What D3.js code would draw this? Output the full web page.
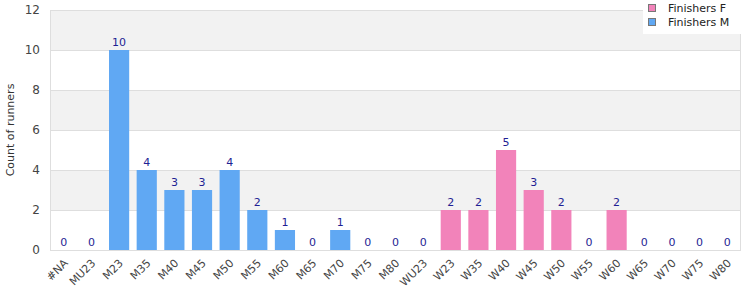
<!DOCTYPE html>
<html>
<head>
<meta charset="utf-8">
<script src="https://cdn.jsdelivr.net/npm/d3@7"></script>
<style>
  body { margin: 0; background: #fff; }
  svg { font-family: "DejaVu Sans", Verdana, sans-serif; }
  .axis path, .axis line { display: none; }
  .axis text { fill: #444; }
</style>
</head>
<body>
<div class="graph"></div>
<script>
// categories and series
const categories = ["#NA", "MU23", "M23", "M35", "M40", "M45", "M50", "M55", "M60", "M65", "M70", "M75", "M80",
    "WU23", "W23", "W35", "W40", "W45", "W50", "W55", "W60", "W65", "W70", "W75", "W80"];
const finishersM = [0, 0, 10, 4, 3, 3, 4, 2, 1, 0, 1, 0, 0, 0, 0, 0, 0, 0, 0, 0, 0, 0, 0, 0, 0];
const finishersF = [0, 0, 0, 0, 0, 0, 0, 0, 0, 0, 0, 0, 0, 0, 2, 2, 5, 3, 2, 0, 2, 0, 0, 0, 0];
const yTicks = [0, 2, 4, 6, 8, 10, 12];

const width = 750, height = 300;
const margin = {top: 10, right: 9, bottom: 50, left: 50};
const colorM = "#60a8f3", colorF = "#f283ba";

const svg = d3.select(".graph").append("svg")
    .attr("width", width)
    .attr("height", height);

const x = d3.scaleBand()
    .domain(categories)
    .range([margin.left, width - margin.right])
    .paddingInner(0.27)
    .paddingOuter(0.135);

const y = d3.scaleLinear()
    .domain([0, 12])
    .range([height - margin.bottom, margin.top]);

//alternating bands
const bands = d3.range(0, yTicks.length - 1).filter(i => i % 2 === 1);
svg.append("g").selectAll("rect")
    .data(bands)
    .join("rect")
    .attr("x", margin.left)
    .attr("width", width - margin.left - margin.right)
    .attr("y", i => y(yTicks[i + 1]))
    .attr("height", i => y(yTicks[i]) - y(yTicks[i + 1]))
    .attr("fill", "#f2f2f2");

//grid lines
svg.append("g").selectAll("line")
    .data(yTicks)
    .join("line")
    .attr("x1", margin.left)
    .attr("x2", width - margin.right)
    .attr("y1", d => y(d) + 0.5)
    .attr("y2", d => y(d) + 0.5)
    .attr("stroke", "#dedede");

//plot border
svg.append("rect")
    .attr("x", margin.left + 0.5)
    .attr("y", margin.top + 0.5)
    .attr("width", width - margin.left - margin.right - 1)
    .attr("height", height - margin.top - margin.bottom)
    .attr("fill", "none")
    .attr("stroke", "#dedede");

//axes
svg.append("g")
    .attr("class", "axis")
    .attr("transform", "translate(" + (margin.left - 2) + ",0)")
    .call(d3.axisLeft(y).tickValues(yTicks).tickSize(0).tickPadding(8))
    .selectAll("text")
    .style("font-size", "12px")
    .style("font-family", "DejaVu Sans, sans-serif");

svg.append("g")
    .attr("class", "axis")
    .attr("transform", "translate(0," + (height - margin.bottom) + ")")
    .call(d3.axisBottom(x).tickSize(0).tickPadding(0))
    .selectAll("text")
    .style("font-size", "11px")
    .style("font-family", "DejaVu Sans, sans-serif")
    .style("text-anchor", "end")
    .attr("dy", "0.35em")
    .attr("transform", "translate(2,11) rotate(-45)");

svg.append("text")
    .attr("transform", "translate(10," + ((margin.top + height - margin.bottom) / 2) + ") rotate(-90)")
    .attr("text-anchor", "middle")
    .attr("dy", "0.35em")
    .style("font-size", "11px")
    .attr("fill", "#333")
    .text("Count of runners");

//bars
const rows = categories.map((c, i) => ({cat: c, m: finishersM[i], f: finishersF[i]}));

svg.append("g").selectAll("rect")
    .data(rows.filter(d => d.m > 0))
    .join("rect")
    .attr("x", d => x(d.cat))
    .attr("width", x.bandwidth())
    .attr("y", d => y(d.m))
    .attr("height", d => y(0) - y(d.m))
    .attr("fill", colorM);

svg.append("g").selectAll("rect")
    .data(rows.filter(d => d.f > 0))
    .join("rect")
    .attr("x", d => x(d.cat))
    .attr("width", x.bandwidth())
    .attr("y", d => y(d.f))
    .attr("height", d => y(0) - y(d.f))
    .attr("fill", colorF);

//value labels
svg.append("g").selectAll("text")
    .data(rows)
    .join("text")
    .attr("x", d => x(d.cat) + x.bandwidth() / 2)
    .attr("y", d => y(d.m + d.f) - 4)
    .attr("text-anchor", "middle")
    .style("font-size", "11px")
    .attr("fill", "#1f1f94")
    .text(d => d.m + d.f);

//legend
const legend = svg.append("g").attr("transform", "translate(643,0)");
legend.append("rect")
    .attr("width", 98).attr("height", 34)
    .attr("fill", "#fff");
const items = [{name: "Finishers F", color: colorF}, {name: "Finishers M", color: colorM}];
items.forEach((d, i) => {
    legend.append("rect")
        .attr("x", 5.5).attr("y", 4.5 + i * 14)
        .attr("width", 7).attr("height", 7)
        .attr("fill", d.color)
        .attr("stroke", "#777");
    legend.append("text")
        .attr("x", 25).attr("y", 8 + i * 14)
        .attr("dy", "0.35em")
        .style("font-size", "11px")
        .attr("fill", "#222")
        .text(d.name);
});
</script>
</body>
</html>
